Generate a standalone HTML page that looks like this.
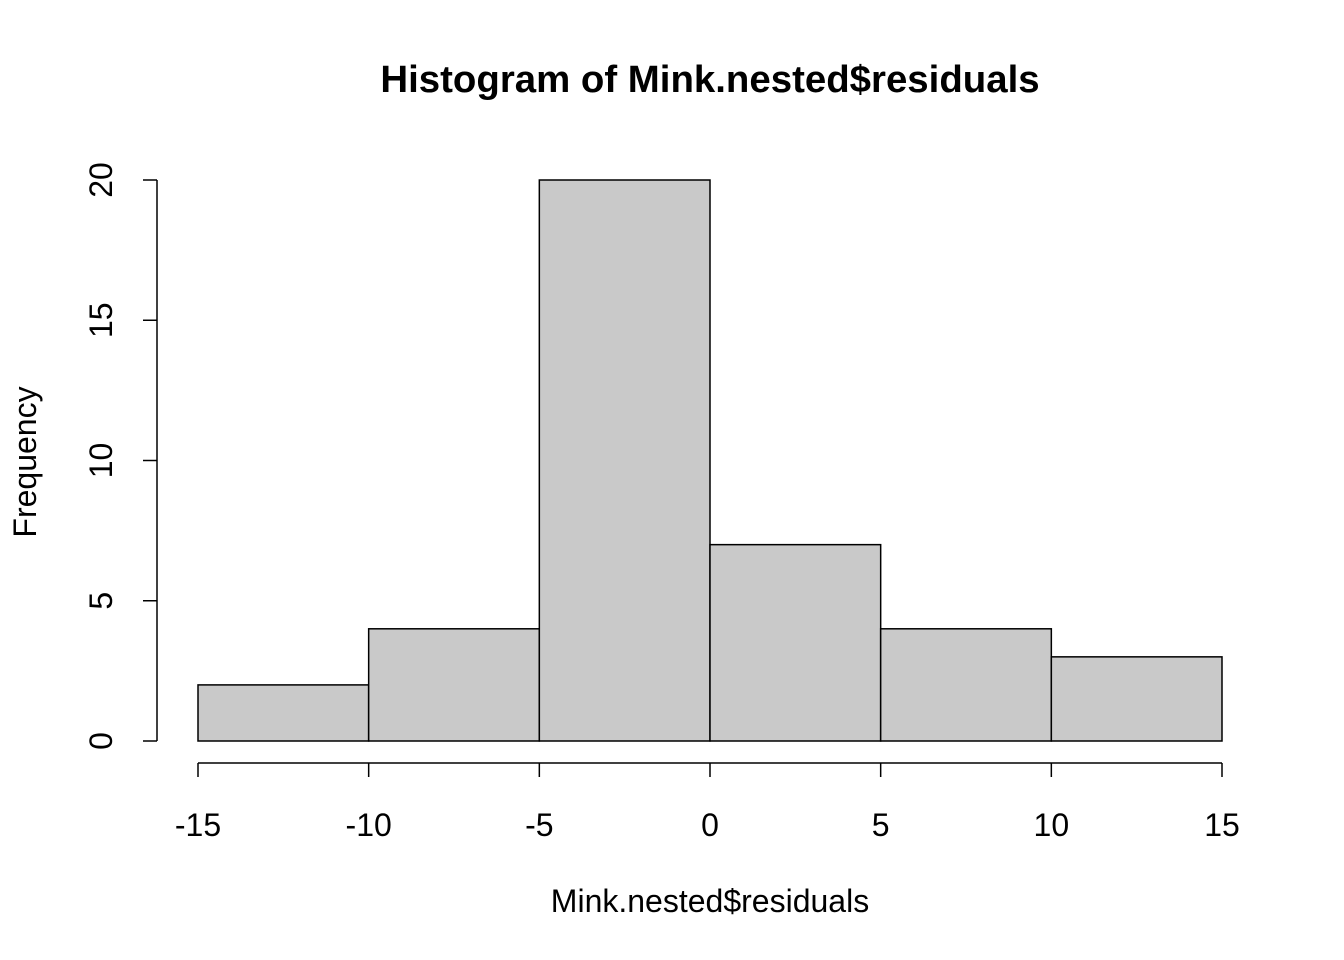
<!DOCTYPE html>
<html><head><meta charset="utf-8"><style>
body{margin:0;background:#fff}
svg{display:block;font-family:"Liberation Sans",Arial,sans-serif}
</style></head><body>
<svg id="chart" width="1344" height="960">
<text x="710" y="92" text-anchor="middle" font-size="38.4" font-weight="bold">Histogram of Mink.nested$residuals</text>
<text x="710" y="912" text-anchor="middle" font-size="32">Mink.nested$residuals</text>
<text transform="translate(36,462) rotate(-90)" text-anchor="middle" font-size="32">Frequency</text>
<g id="bars"></g><g id="xaxis"></g><g id="yaxis"></g>
</svg>
<script>
const binEdges=[-15,-10,-5,0,5,10,15];
const counts=[2,4,20,7,4,3];
const xTicks=[-15,-10,-5,0,5,10,15];
const yTicks=[0,5,10,15,20];
const NS="http://www.w3.org/2000/svg";
const xs=v=>198+(v+15)*(1222-198)/30;
const ys=v=>741-v*(741-180)/20;
function mk(tag,attrs,parent){const e=document.createElementNS(NS,tag);for(const k in attrs)e.setAttribute(k,attrs[k]);parent.appendChild(e);return e;}
const bars=document.getElementById('bars');
counts.forEach((c,i)=>{
 const r=mk('rect',{x:xs(binEdges[i]),y:ys(c),width:xs(binEdges[i+1])-xs(binEdges[i]),height:ys(0)-ys(c),fill:'#c9c9c9',stroke:'#000','stroke-width':1.5},bars);
 
 
});
const xa=document.getElementById('xaxis');
const xl=mk('line',{x1:xs(xTicks[0]),x2:xs(xTicks[xTicks.length-1]),y1:763,y2:763,stroke:'#000','stroke-width':1.5},xa);


xTicks.forEach(t=>{
 mk('line',{x1:xs(t),x2:xs(t),y1:763,y2:777,stroke:'#000','stroke-width':1.5},xa);
 const tx=mk('text',{x:xs(t),y:836,'text-anchor':'middle','font-size':32},xa);
 tx.textContent=t;
 
 
});
const ya=document.getElementById('yaxis');
const yl=mk('line',{x1:157,x2:157,y1:ys(yTicks[0]),y2:ys(yTicks[yTicks.length-1]),stroke:'#000','stroke-width':1.5},ya);


yTicks.forEach(t=>{
 mk('line',{x1:143,x2:157,y1:ys(t),y2:ys(t),stroke:'#000','stroke-width':1.5},ya);
 const tx=mk('text',{transform:`translate(112,${ys(t)}) rotate(-90)`,'text-anchor':'middle','font-size':32},ya);
 tx.textContent=t;
 
 
});
</script>
</body></html>
